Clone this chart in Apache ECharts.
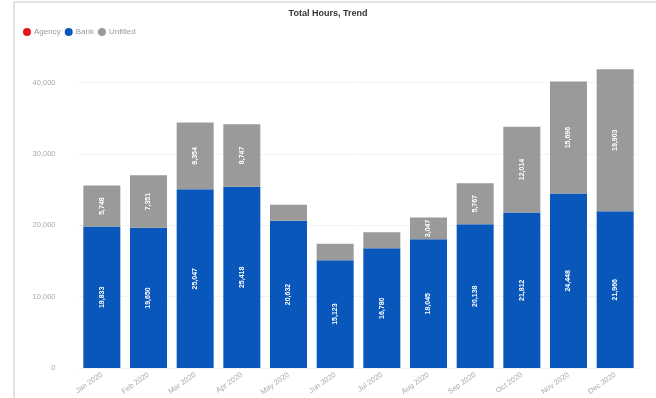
<!DOCTYPE html>
<html>
<head>
<meta charset="utf-8">
<script src="https://cdn.jsdelivr.net/npm/echarts@6/dist/echarts.min.js"></script>
<style>
  html, body { margin: 0; padding: 0; background: #fff; }
  #chart { width: 656px; height: 398px; }
</style>
</head>
<body>
<div id="chart"></div>
<script>
// Monthly hours, stacked by source
const months = ['Jan 2020', 'Feb 2020', 'Mar 2020', 'Apr 2020', 'May 2020', 'Jun 2020',
                'Jul 2020', 'Aug 2020', 'Sep 2020', 'Oct 2020', 'Nov 2020', 'Dec 2020'];
const agency   = [0, 0, 0, 0, 0, 0, 0, 0, 0, 0, 0, 0];
const bank     = [19833, 19650, 25047, 25418, 20632, 15123, 16780, 18045, 20138, 21812, 24448, 21966];
const unfilled = [5748, 7351, 9354, 8747, 2240, 2286, 2268, 3047, 5767, 12014, 15696, 19903];
const yTicks   = [0, 10000, 20000, 30000, 40000];

const fmt = v => v.toLocaleString('en-US');

const chart = echarts.init(document.getElementById('chart'));

const segLabel = {
  show: true,
  position: 'inside',
  rotate: 90,
  color: '#fff',
  fontSize: 7,
  fontWeight: 'bold',
  fontFamily: 'Liberation Sans, Arial, sans-serif',
  formatter: p => (p.value < 2500 ? '' : fmt(p.value))
};

chart.setOption({
  animation: false,
  title: {
    text: 'Total Hours, Trend',
    left: 'center',
    top: 4,
    textStyle: { fontSize: 9, fontWeight: 'bold', color: '#333', fontFamily: 'Liberation Sans, Arial, sans-serif' }
  },
  legend: {
    left: 18,
    top: 23,
    icon: 'circle',
    itemWidth: 10,
    itemHeight: 8,
    itemGap: 4,
    textStyle: { fontSize: 8, color: '#999', padding: [0, 0, 0, -3], fontFamily: 'Liberation Sans, Arial, sans-serif' },
    data: ['Agency', 'Bank', 'Unfilled']
  },
  graphic: [
    { type: 'line', shape: { x1: 14, y1: 2, x2: 14, y2: 398 }, style: { stroke: '#d8d8d8', lineWidth: 1.5 } },
    { type: 'line', shape: { x1: 14, y1: 2, x2: 656, y2: 2 }, style: { stroke: '#d8d8d8', lineWidth: 1.5 } }
  ],
  grid: { left: 78.5, right: 17.5, top: 68.3, bottom: 29.7 },
  xAxis: {
    type: 'category',
    data: months,
    axisLine: { show: false },
    axisTick: { show: false },
    axisLabel: {
      rotate: 35,
      fontSize: 7.5,
      color: '#aaa',
      margin: 6,
      interval: 0,
      fontFamily: 'Liberation Sans, Arial, sans-serif'
    }
  },
  yAxis: {
    type: 'value',
    min: 0,
    max: 42000,
    interval: 10000,
    axisLabel: {
      fontSize: 7.5,
      color: '#aaa',
      margin: 23,
      showMaxLabel: false,
      fontFamily: 'Liberation Sans, Arial, sans-serif',
      formatter: v => (yTicks.includes(v) ? fmt(v) : '')
    },
    splitLine: { showMaxLine: false, lineStyle: { color: '#f2f2f2', width: 1 } }
  },
  series: [
    {
      name: 'Agency', type: 'bar', stack: 'hours', data: agency,
      itemStyle: { color: '#e3141c' }, barWidth: 37
    },
    {
      name: 'Bank', type: 'bar', stack: 'hours', data: bank,
      itemStyle: { color: '#0a57bb' }, barWidth: 37, label: segLabel
    },
    {
      name: 'Unfilled', type: 'bar', stack: 'hours', data: unfilled,
      itemStyle: { color: '#9a9a9a' }, barWidth: 37, label: segLabel
    }
  ]
});
</script>
</body>
</html>
